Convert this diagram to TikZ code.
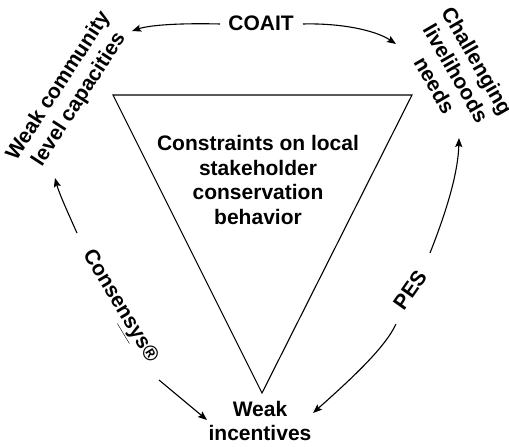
\documentclass[tikz,border=0pt]{standalone}
\usepackage{fontspec}
\setmainfont{Liberation Sans}
\usetikzlibrary{arrows.meta}
\begin{document}
\begin{tikzpicture}[x=1pt,y=-1pt,
  lbl/.style={font=\fontsize{21}{24.5}\selectfont\bfseries, align=center, inner sep=0pt},
  link/.style={line width=1.1pt, -{Stealth[length=9pt,width=7pt,inset=1.5pt]}}]
\useasboundingbox (0,0) rectangle (509,447);

% inverted triangle
\draw[line width=1.1pt, line join=miter] (113,95) -- (412,95) -- (262,393) -- cycle;

% labels
\node[lbl] (core) at (258,180) {Constraints on local\\stakeholder\\conservation\\behavior};
\node[lbl] (coait) at (261,23.5) {COAIT};
\node[lbl, rotate=57] (wcl) at (69,93) {Weak community\\level capacities};
\node[lbl, rotate=-60] (chl) at (456,73) {Challenging\\livelihoods\\needs};
\node[lbl] (wi) at (260,421) {Weak\\incentives};
\node[lbl, rotate=-59] (cons) at (119,307) {Consen\underline{sy}s®};
\node[lbl, rotate=55] (pes) at (410,290) {PES};

% connector end points
\coordinate (c1a) at (220,24);  \coordinate (c1b) at (132,31);
\coordinate (c2a) at (303,24);  \coordinate (c2b) at (396,44);
\coordinate (c3a) at (77,233);  \coordinate (c3b) at (55,178);
\coordinate (c4a) at (159,380); \coordinate (c4b) at (207,420);
\coordinate (c5a) at (430,253); \coordinate (c5b) at (459,138);
\coordinate (c6a) at (396,324); \coordinate (c6b) at (313,413);

% connectors
\draw[link] (c1a) .. controls (180,23) and (150,25) .. (c1b);
\draw[link] (c2a) .. controls (340,23) and (375,30) .. (c2b);
\draw[link] (c3a) .. controls (68,213) and (59,193) .. (c3b);
\draw[link] (c4a) -- (c4b);
\draw[link] (c5a) .. controls (445,215) and (458,175) .. (c5b);
\draw[link] (c6a) .. controls (385,348) and (350,380) .. (c6b);
\end{tikzpicture}
\end{document}
